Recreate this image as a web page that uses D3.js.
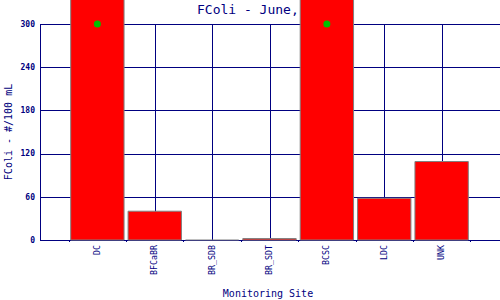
<!DOCTYPE html>
<html><head><meta charset="utf-8">
<script src="https://cdn.jsdelivr.net/npm/d3@7"></script>
<style>body{margin:0;background:#fff}svg{display:block}</style>
</head><body><svg id="c" width="500" height="300"></svg>
<script>
const sites = ["DC","BFCaBR","BR_SDB","BR_SDT","BCSC","LDC","UNK"];
const values = [420, 40, 0, 2, 420, 58, 109];
const markers = [300, null, null, null, 300, null, null];
const yTicks = [0, 60, 120, 180, 240, 300];
const title = "FColi - June,";
const yTitle = "FColi - #/100 mL";
const xTitle = "Monitoring Site";

const navy = "#000080", mono = "'DejaVu Sans Mono', monospace";
const svg = d3.select("#c");
const L = 40, R = 499, T = 24, B = 240;
const x = d3.scaleLinear().domain([0, sites.length + 1]).range([L, R]);
const y = d3.scaleLinear().domain([0, 300]).range([B, T]);
const step = x(1) - x(0), bw = step * 0.93;

svg.append("text").attr("x", 197).attr("y", 13.5).attr("font-family", mono)
  .attr("font-size", 13).attr("fill", navy).text(title);

// grid
const g = svg.append("g").attr("shape-rendering", "crispEdges");
g.selectAll(".hg").data(yTicks).join("line")
  .attr("x1", L).attr("x2", 500).attr("y1", d => Math.round(y(d)) + 0.5).attr("y2", d => Math.round(y(d)) + 0.5)
  .attr("stroke", navy);
g.selectAll(".vg").data(sites).join("line")
  .attr("x1", (d, i) => Math.round(x(i + 1)) + 0.5).attr("x2", (d, i) => Math.round(x(i + 1)) + 0.5)
  .attr("y1", T).attr("y2", B).attr("stroke", navy);
g.append("line").attr("x1", L + 0.5).attr("x2", L + 0.5).attr("y1", T).attr("y2", B + 0.5).attr("stroke", navy);
g.selectAll(".tk").data(d3.range(sites.length + 1)).join("line")
  .attr("x1", d => Math.round(x(d + 0.5)) + 0.5).attr("x2", d => Math.round(x(d + 0.5)) + 0.5)
  .attr("y1", B).attr("y2", B + 2).attr("stroke", navy);

// bars
svg.selectAll(".bar").data(values).join("path")
  .attr("d", (d, i) => {
    const x0 = x(i + 1) - bw / 2, x1 = x(i + 1) + bw / 2, y0 = y(0), y1 = y(d);
    return d === 0 ? `M${x0},${y0}H${x1}` : `M${x0},${y0}V${y1}H${x1}V${y0}Z`;
  })
  .attr("fill", "#ff0000").attr("stroke", "#808080").attr("stroke-width", 1);

// markers
svg.selectAll(".mk").data(markers.map((v, i) => ({v, i})).filter(d => d.v != null)).join("circle")
  .attr("cx", d => x(d.i + 1)).attr("cy", d => y(d.v)).attr("r", 3.5).attr("fill", "#00c000");

// y tick labels
svg.selectAll(".yl").data(yTicks).join("text")
  .attr("x", 35).attr("y", d => y(d)).attr("dy", "0.35em").attr("text-anchor", "end")
  .attr("font-family", mono).attr("font-size", 8).attr("font-weight", "bold").attr("fill", navy)
  .text(d => d);

// x labels
svg.selectAll(".xl").data(sites).join("text")
  .attr("transform", (d, i) => `translate(${x(i + 1) + 2.5},245) rotate(-90)`)
  .attr("text-anchor", "end").attr("font-family", mono).attr("font-size", 8.3).attr("fill", navy)
  .text(d => d);

svg.append("text").attr("x", 268).attr("y", 297).attr("text-anchor", "middle")
  .attr("font-family", mono).attr("font-size", 10).attr("fill", navy).text(xTitle);
svg.append("text").attr("transform", `translate(12,${(T + B) / 2}) rotate(-90)`).attr("text-anchor", "middle")
  .attr("font-family", mono).attr("font-size", 10).attr("fill", navy).text(yTitle);
</script></body></html>
